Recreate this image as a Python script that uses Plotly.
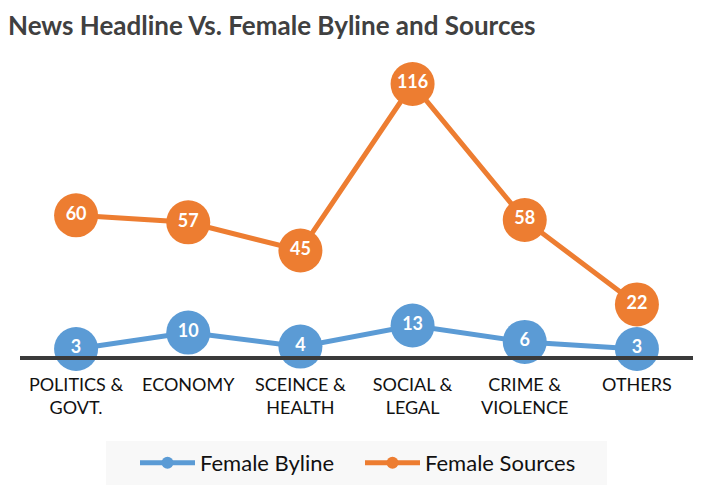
import plotly.graph_objects as go

categories = ["POLITICS &<br>GOVT.", "ECONOMY", "SCEINCE &<br>HEALTH", "SOCIAL &<br>LEGAL", "CRIME &<br>VIOLENCE", "OTHERS"]
female_byline = [3, 10, 4, 13, 6, 3]
female_sources = [60, 57, 45, 116, 58, 22]

BLUE = "#5B9BD5"
ORANGE = "#ED7D31"
FONT = "Lato"

# figure is placed at (8, 8) in the page by the default body margin
W, H = 700, 492
L, R, T, B = 12, 15, 47, 144
PW, PH = W - L - R, H - T - B

fig = go.Figure()
for name, vals, col in [("Female Byline", female_byline, BLUE), ("Female Sources", female_sources, ORANGE)]:
    fig.add_trace(go.Scatter(
        x=categories, y=vals, name=name, mode="lines+markers+text",
        text=[str(v) for v in vals], textposition="middle center",
        textfont=dict(family=FONT, size=18, color="white", weight="bold"),
        line=dict(color=col, width=5),
        marker=dict(color=col, size=44),
        cliponaxis=False,
    ))

fig.add_shape(type="rect", xref="paper", yref="paper",
              x0=(98 - L) / PW, x1=(599 - L) / PW,
              y0=(PH + T - 477) / PH, y1=(PH + T - 433) / PH,
              fillcolor="#F8F8F8", line_width=0, layer="below")

fig.update_layout(
    width=W, height=H,
    margin=dict(l=L, r=R, t=T, b=B, autoexpand=False),
    paper_bgcolor="white", plot_bgcolor="white",
    title=dict(text="<b>News Headline Vs. Female Byline and Sources</b>",
               x=0, xref="container", xanchor="left", y=1 - 18 / H, yanchor="middle",
               pad=dict(l=0),
               font=dict(family=FONT, size=26, color="#404040")),
    xaxis=dict(type="category", range=[-0.5, 5.5], showgrid=False, zeroline=False,
               showline=True, linecolor="#3a3a3a", linewidth=4, ticks="",
               ticklabelstandoff=9, automargin=False,
               tickfont=dict(family=FONT, size=18, color="#111111")),
    yaxis=dict(range=[0, PH / 2.345], showgrid=False, zeroline=False, showticklabels=False,
               showline=False, automargin=False),
    showlegend=True,
    legend=dict(orientation="h", x=(127 - L) / PW, xanchor="left",
                y=(PH + T - 455) / PH, yanchor="middle",
                bgcolor="rgba(0,0,0,0)", itemsizing="constant", itemwidth=55,
                entrywidth=155,
                font=dict(family=FONT, size=22, color="#111111")),
)

fig.write_html("out.html")
